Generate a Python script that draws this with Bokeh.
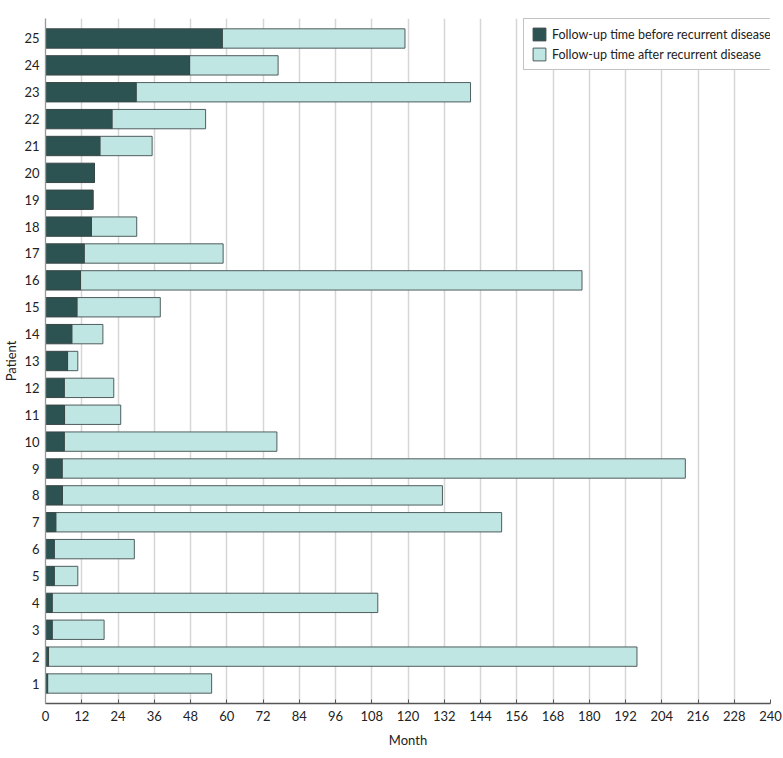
from bokeh.plotting import figure
from bokeh.models import ColumnDataSource, FixedTicker, Legend, LegendItem
from bokeh.embed import file_html
from bokeh.resources import INLINE

patients = list(range(1, 26))
before = [0.7, 1.0, 2.2, 2.2, 2.9, 2.9, 3.4, 5.6, 5.5, 6.2, 6.3, 6.2, 7.3,
          8.7, 10.4, 11.6, 12.8, 15.2, 15.7, 16.2, 18.0, 22.0, 30.0, 47.7, 58.5]
after = [54.3, 194.8, 17.2, 107.8, 7.8, 26.5, 147.6, 125.8, 206.3, 70.4, 18.6, 16.4, 3.4,
         10.3, 27.6, 166.0, 46.0, 15.0, 0.0, 0.0, 17.3, 31.0, 110.7, 29.3, 60.5]
x_ticks = list(range(0, 241, 12))

total = [b + a for b, a in zip(before, after)]
src = ColumnDataSource(dict(y=patients, before=before, total=total,
                            zero=[0] * len(patients)))

FONT = "Lato"
p = figure(width=783, height=758, output_backend="svg", toolbar_location=None,
           x_range=(0, 240), y_range=(0.256, 25.744),
           min_border_left=45, min_border_right=13, min_border_top=18,
           min_border_bottom=55)
p.outline_line_color = None

r_after = p.hbar(y="y", left="before", right="total", height=0.72, source=src,
                 fill_color="#c0e6e4", line_color="#4f5d5d", line_width=1)
r_before = p.hbar(y="y", left="zero", right="before", height=0.72, source=src,
                  fill_color="#2c5352", line_color="#3a4646", line_width=1)

p.xaxis.ticker = FixedTicker(ticks=x_ticks)
p.yaxis.ticker = FixedTicker(ticks=patients)
p.ygrid.grid_line_color = None
p.xgrid.grid_line_color = "#d6d6d6"
p.xgrid.grid_line_width = 1.5

for ax in (p.xaxis[0], p.yaxis[0]):
    ax.axis_line_color = "#555555"
    ax.axis_line_width = 1.3
    ax.major_label_text_font = FONT
    ax.major_label_text_font_size = "13px"
    ax.major_label_text_color = "#222222"
    ax.axis_label_text_font = FONT
    ax.axis_label_text_font_size = "13px"
    ax.axis_label_text_font_style = "normal"
    ax.axis_label_text_color = "#222222"
    ax.minor_tick_line_color = None

p.yaxis.major_tick_line_color = None
p.yaxis.major_tick_out = 0
p.yaxis.major_tick_in = 0
p.yaxis.axis_line_color = "#999999"
p.yaxis.major_label_standoff = 6
p.yaxis.axis_label = "Patient"
p.yaxis.axis_label_standoff = 2
p.xaxis.major_tick_line_color = "#555555"
p.xaxis.major_tick_in = 4
p.xaxis.major_tick_out = 0
p.xaxis.major_label_standoff = 7
p.xaxis.axis_label = "Month"
p.xaxis.axis_label_standoff = 8

legend = Legend(items=[
    LegendItem(label="Follow-up time before recurrent disease", renderers=[r_before]),
    LegendItem(label="Follow-up time after recurrent disease", renderers=[r_after]),
], location=(478, 633))
legend.label_text_font = FONT
legend.label_text_font_size = "12.5px"
legend.label_text_color = "#222222"
legend.glyph_width = 16
legend.glyph_height = 16
legend.label_standoff = 5
legend.padding = 7
legend.spacing = 4
legend.margin = 0
legend.border_line_color = "#888888"
legend.border_line_width = 1.2
legend.background_fill_alpha = 1
p.add_layout(legend)

open("out.html", "w").write(file_html(p, INLINE))
